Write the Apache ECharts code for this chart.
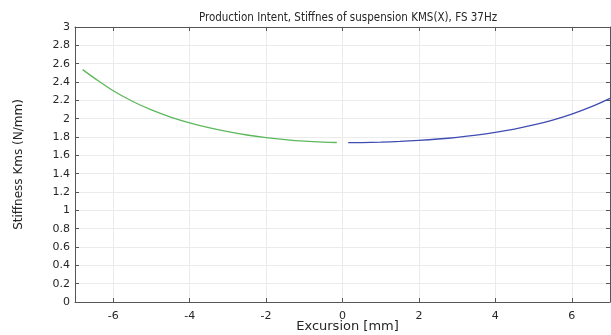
<!DOCTYPE html>
<html>
<head>
<meta charset="utf-8">
<script src="https://cdn.jsdelivr.net/npm/echarts@6/dist/echarts.min.js"></script>
<style>
  html, body { margin: 0; padding: 0; background: #fff; }
  #chart { width: 611px; height: 335px; }
</style>
</head>
<body>
<div id="chart"></div>
<script>
// Suspension stiffness vs. excursion, measured in two sweeps (negative / positive side)
const negExcursion = [-6.8, -6.5, -6.0, -5.5, -5.0, -4.5, -4.0, -3.5, -3.0, -2.5, -2.0, -1.5, -1.0, -0.5, -0.15];
const negStiffness = [2.535, 2.445, 2.305, 2.19, 2.095, 2.018, 1.955, 1.902, 1.858, 1.822, 1.794, 1.772, 1.755, 1.744, 1.740];

const posExcursion = [0.15, 0.5, 1.0, 1.5, 2.0, 2.5, 3.0, 3.5, 4.0, 4.5, 5.0, 5.5, 6.0, 6.5, 7.0];
const posStiffness = [1.738, 1.739, 1.7435, 1.7515, 1.763, 1.778, 1.797, 1.821, 1.851, 1.887, 1.931, 1.985, 2.050, 2.128, 2.222];

const xTicks = [-6, -4, -2, 0, 2, 4, 6];

const titleText = 'Production Intent, Stiffnes of suspension KMS(X), FS 37Hz';
const xName = 'Excursion [mm]';
const yName = 'Stiffness Kms (N/mm)';

const FONT = 'DejaVu Sans';
const TITLE_FONT = "'DejaVu Sans Condensed', 'DejaVu Sans'";
const TEXT = '#262626';
const AXIS = '#555555';
const GRID = '#ebebeb';

const pairs = (xs, ys) => xs.map((x, i) => [x, ys[i]]);

const chart = echarts.init(document.getElementById('chart'), null, { renderer: 'canvas' });

const xBase = {
  type: 'value', min: -7, max: 7,
  axisLine: { show: true, onZero: false, lineStyle: { color: AXIS, width: 1 } },
  axisTick: { show: true, inside: true, length: 4, customValues: xTicks, lineStyle: { color: AXIS } },
};
const yBase = {
  type: 'value', min: 0, max: 3, interval: 0.2,
  axisLine: { show: true, onZero: false, lineStyle: { color: AXIS, width: 1 } },
  axisTick: { show: true, inside: true, length: 4, lineStyle: { color: AXIS } },
};

chart.setOption({
  animation: false,
  backgroundColor: '#fff',
  textStyle: { fontFamily: FONT },
  title: {
    text: titleText, left: 343, top: 7, textAlign: 'center',
    textStyle: { fontFamily: TITLE_FONT, fontSize: 11.5, fontWeight: 'normal', color: TEXT }
  },
  grid: { left: 75, right: 1, top: 27, bottom: 33, containLabel: false, outerBoundsMode: 'none' },
  xAxis: [
    Object.assign({}, xBase, {
      position: 'bottom',
      name: xName, nameLocation: 'middle', nameGap: 18, nameMoveOverlap: false,
      nameTextStyle: { fontFamily: FONT, fontSize: 13, color: TEXT, padding: [0, 0, 0, 10] },
      axisLabel: { show: true, customValues: xTicks, margin: 9, fontFamily: FONT, fontSize: 11, color: TEXT,
        formatter: v => String(v) },
      splitLine: { show: true, lineStyle: { color: GRID, width: 1 } }
    }),
    Object.assign({}, xBase, {
      position: 'top',
      axisLabel: { show: false },
      splitLine: { show: false }
    })
  ],
  yAxis: [
    Object.assign({}, yBase, {
      position: 'left',
      name: yName, nameLocation: 'middle', nameGap: 50, nameMoveOverlap: false,
      nameTextStyle: { fontFamily: FONT, fontSize: 12, color: TEXT },
      axisLabel: { show: true, margin: 5, fontFamily: FONT, fontSize: 11, color: TEXT,
        formatter: v => String(Math.round(v * 10) / 10) },
      splitLine: { show: true, lineStyle: { color: GRID, width: 1 } }
    }),
    Object.assign({}, yBase, {
      position: 'right',
      axisLabel: { show: false },
      splitLine: { show: false }
    })
  ],
  series: [
    {
      type: 'line', xAxisIndex: 0, yAxisIndex: 0,
      data: pairs(negExcursion, negStiffness),
      smooth: 0.35, showSymbol: false,
      lineStyle: { color: '#5cb85c', width: 1.3 }
    },
    {
      type: 'line', xAxisIndex: 0, yAxisIndex: 0,
      data: pairs(posExcursion, posStiffness),
      smooth: 0.35, showSymbol: false,
      lineStyle: { color: '#3f4db3', width: 1.3 }
    }
  ]
});
</script>
</body>
</html>
